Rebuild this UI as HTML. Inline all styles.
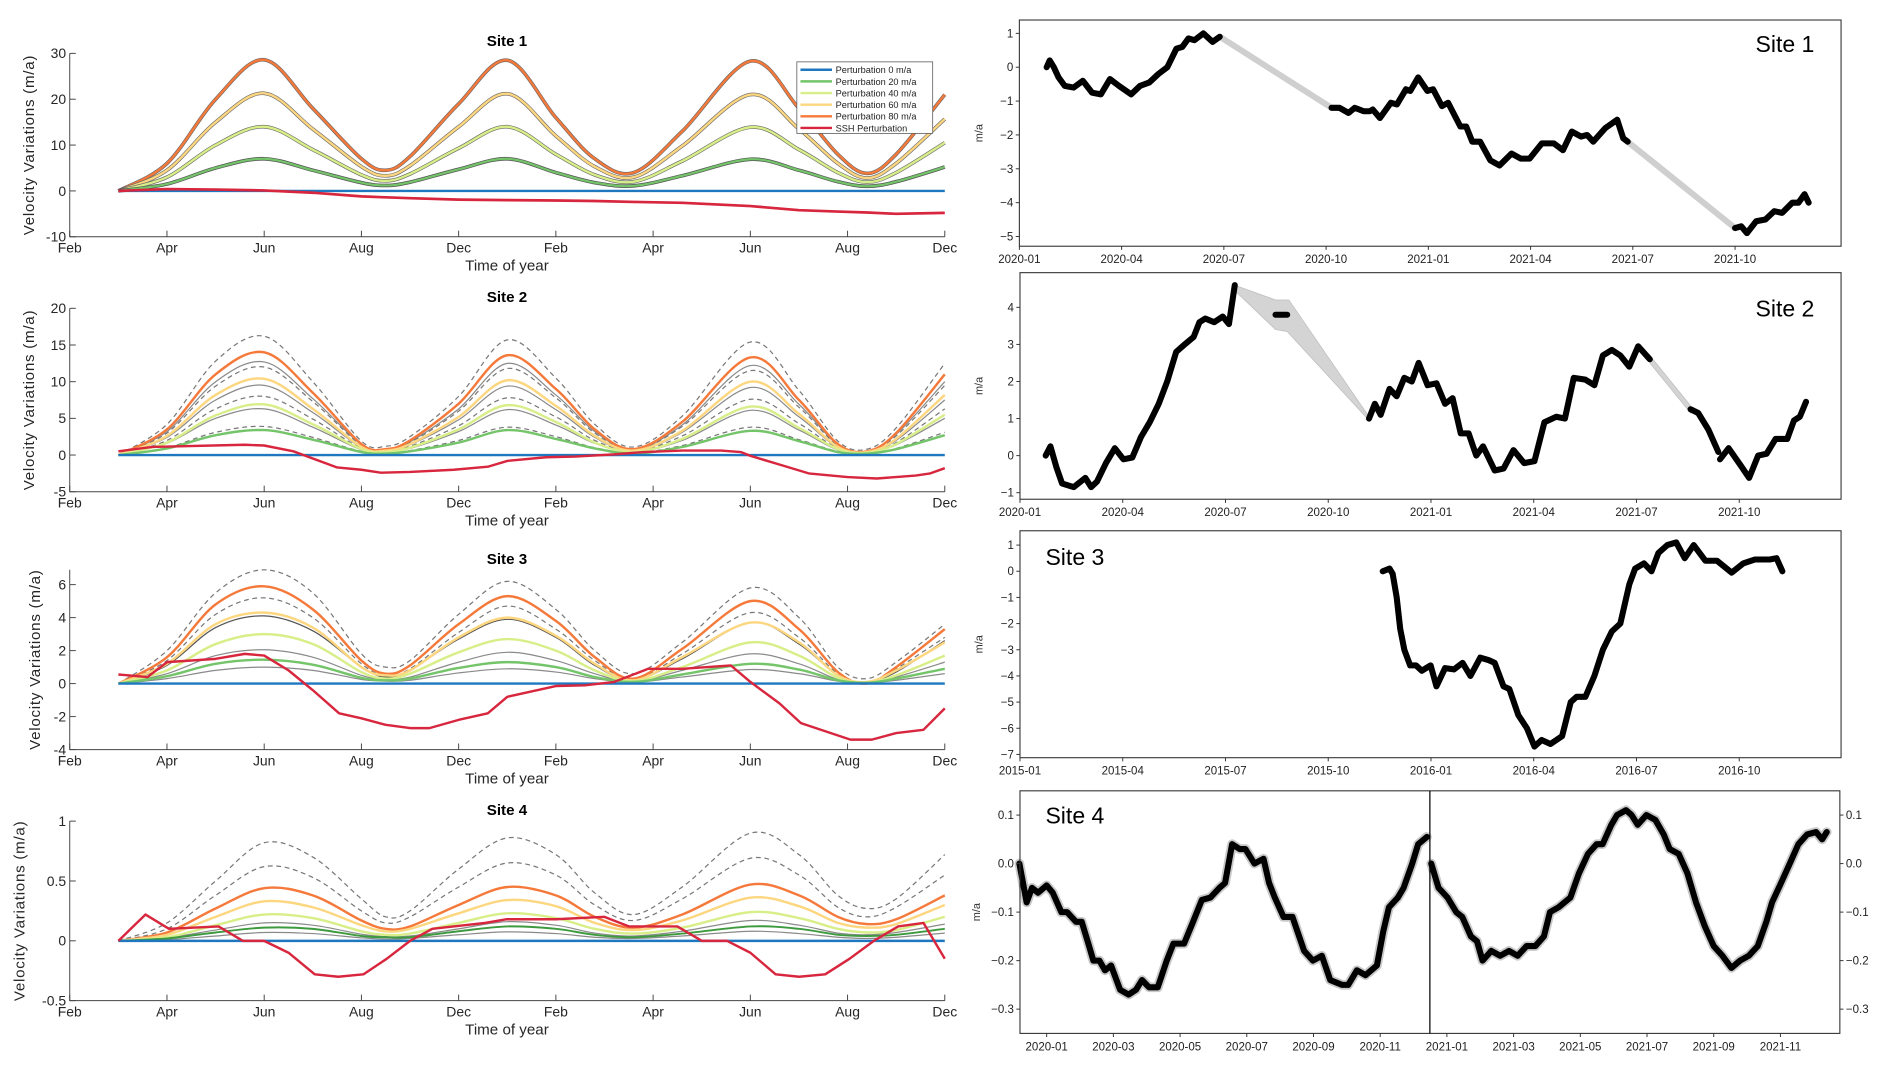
<!DOCTYPE html>
<html><head><meta charset="utf-8"><style>
html,body{margin:0;padding:0;background:#fff;}
svg{display:block;}
text{font-family:"Liberation Sans",sans-serif;}
</style></head><body>
<svg id="fig" width="1892" height="1071" viewBox="0 0 1560 883" preserveAspectRatio="none" xmlns="http://www.w3.org/2000/svg"></svg>
<script>
// ---------- LEFT PANEL DATA ----------
const leftXLabels=["Feb","Apr","Jun","Aug","Dec","Feb","Apr","Jun","Aug","Dec"];
const leftTimes=[0.5,1,1.5,2,2.5,3,3.25,3.5,4,4.5,5,5.4,5.8,6.3,7,7.5,7.9,8.2,8.5,9];
const p1Ticks=[30,20,10,0,-10];
const p1Orange=[0,6,20,28.6,18,7,4.5,7.5,19,28.5,16,7,4,13,28.3,18,8,3.8,8,21];
const p1Yellow=[0,4.5,15,21.3,13.5,5.3,3.3,5.5,14,21.2,12,5.3,3,9.8,21,13.5,6,2.8,6,15.7];
const p1YGreen=[0,3,10,14,9,3.5,2.2,3.7,9.3,14,8,3.5,2,6.5,13.9,9,4,1.9,4,10.5];
const p1Green=[0,1.5,5,7,4.5,1.8,1.2,1.9,4.7,7,4,1.8,1.1,3.3,6.9,4.5,2,1,2,5.2];
const p1Zero=[0,0,0,0,0,0,0,0,0,0,0,0,0,0,0,0,0,0,0,0];
const p1Ssh=[0,0.4,0.3,0.1,-0.4,-1.2,-1.4,-1.6,-1.9,-2,-2.1,-2.2,-2.4,-2.6,-3.3,-4.2,-4.5,-4.7,-5,-4.8];

const p2Ticks=[20,15,10,5,0,-5];
const p2Orange=[0,3.5,11,14,8.5,1.5,0.8,2,7,13.6,9,3.5,0.8,4.5,13.3,7.5,1.5,0.5,3,11];
const p2DashTop=[0,4.2,12.8,16.2,10,1.9,1.2,2.5,8,15.7,10.5,4.2,1.1,5.3,15.4,8.8,1.9,0.8,3.7,12.5];
const p2GrayA=[0,3.2,10,12.7,7.7,1.4,0.7,1.8,6.3,12.5,8.2,3.2,0.7,4.1,12.2,6.9,1.4,0.5,2.8,10];
const p2DashB=[0,3,9.4,12,7.3,1.3,0.7,1.7,6,11.8,7.8,3,0.7,3.9,11.5,6.5,1.3,0.5,2.6,9.5];
const p2Yellow=[0,2.6,8.2,10.4,6.3,1.1,0.6,1.5,5.2,10.2,6.7,2.6,0.6,3.3,10,5.6,1.1,0.4,2.2,8.2];
const p2GrayB=[0,2.4,7.5,9.5,5.8,1,0.5,1.4,4.8,9.4,6.2,2.4,0.5,3.1,9.2,5.2,1,0.4,2,7.5];
const p2DashC=[0,2,6.3,8,4.9,0.9,0.5,1.2,4,7.8,5.2,2,0.5,2.6,7.6,4.3,0.9,0.3,1.7,6.3];
const p2YGreen=[0,1.7,5.4,6.9,4.2,0.8,0.4,1,3.5,6.8,4.5,1.7,0.4,2.2,6.6,3.7,0.8,0.3,1.5,5.5];
const p2GrayC=[0,1.6,5,6.3,3.8,0.7,0.4,0.9,3.2,6.2,4.1,1.6,0.4,2,6.1,3.4,0.7,0.3,1.4,5];
const p2DashD=[0,1,3.1,3.9,2.4,0.5,0.3,0.6,2,3.8,2.5,1,0.3,1.3,3.8,2.1,0.5,0.2,0.9,3.1];
const p2Green=[0,0.9,2.7,3.4,2.1,0.4,0.2,0.5,1.7,3.4,2.2,0.9,0.2,1.1,3.3,1.9,0.4,0.2,0.8,2.7];
const p2SshTimes=[0.5,0.85,1.8,2,2.3,2.75,3,3.2,3.5,3.95,4.3,4.5,4.9,5.2,5.6,5.9,6.3,6.7,6.9,7,7.35,7.6,8,8.3,8.7,8.85,9];
const p2Ssh=[0.5,1.1,1.4,1.3,0.5,-1.7,-2,-2.4,-2.3,-2,-1.6,-0.8,-0.3,-0.2,0.1,0.4,0.6,0.6,0.4,-0.1,-1.5,-2.5,-3,-3.2,-2.8,-2.5,-1.8];

const p3Ticks=[6,4,2,0,-2,-4];
const p3DashTop=[0,2,5.5,6.9,5.5,1.8,1.0,1.4,4.2,6.2,4.5,2,0.6,2.5,5.8,4,1,0.3,1.3,3.6];
const p3Orange=[0,1.6,4.8,5.9,4.5,1.4,0.6,1.1,3.6,5.3,3.8,1.6,0.3,2.1,5,3.3,0.7,0,1,3.3];
const p3Dash2=[0,1.4,4.2,5.2,4,1.2,0.5,0.9,3.1,4.7,3.3,1.4,0.25,1.8,4.3,2.8,0.6,0.1,0.9,2.8];
const p3Yellow=[0,1.2,3.6,4.3,3.4,1.0,0.5,0.8,2.8,4.0,2.9,1.2,0.2,1.6,3.7,2.5,0.5,0.1,0.8,2.5];
const p3Gray1=[0,1.1,3.4,4.1,3.2,1.0,0.4,0.8,2.7,3.9,2.8,1.1,0.2,1.5,3.7,2.4,0.5,0.1,0.7,2.6];
const p3YGreen=[0,0.8,2.4,3.0,2.4,0.7,0.3,0.6,1.9,2.7,2.0,0.8,0.15,1.0,2.5,1.7,0.35,0.05,0.5,1.7];
const p3Gray2=[0,0.6,1.7,2.05,1.6,0.5,0.25,0.4,1.3,1.9,1.4,0.6,0.1,0.8,1.8,1.2,0.25,0.05,0.4,1.3];
const p3Green=[0,0.45,1.2,1.45,1.15,0.35,0.2,0.3,0.95,1.3,1,0.4,0.1,0.55,1.2,0.85,0.2,0.05,0.3,0.9];
const p3Gray3=[0,0.3,0.8,1.0,0.8,0.25,0.15,0.2,0.65,0.9,0.7,0.3,0.08,0.4,0.85,0.6,0.15,0.05,0.2,0.6];
const p3SshTimes=[0.5,0.8,1.0,1.5,1.8,2.0,2.25,2.5,2.77,3.0,3.25,3.5,3.7,4.0,4.3,4.5,5.0,5.3,5.6,5.95,6.3,6.8,7.0,7.3,7.52,8.03,8.25,8.5,8.78,9];
const p3Ssh=[0.55,0.4,1.3,1.5,1.8,1.7,0.8,-0.4,-1.8,-2.1,-2.5,-2.7,-2.7,-2.2,-1.8,-0.8,-0.15,-0.1,0.1,0.9,0.9,1.1,0.1,-1.2,-2.4,-3.4,-3.4,-3.0,-2.8,-1.5];

const p4Ticks=[1,0.5,0,-0.5];
const p4DashTop=[0,0.15,0.5,0.82,0.7,0.35,0.2,0.25,0.6,0.86,0.72,0.4,0.22,0.45,0.9,0.72,0.38,0.27,0.35,0.72];
const p4Dash2=[0,0.1,0.38,0.62,0.53,0.25,0.15,0.2,0.45,0.65,0.55,0.3,0.17,0.35,0.69,0.55,0.28,0.2,0.28,0.55];
const p4Orange=[0,0.07,0.27,0.44,0.38,0.17,0.1,0.12,0.3,0.45,0.38,0.2,0.11,0.22,0.47,0.38,0.2,0.14,0.18,0.38];
const p4Yellow=[0,0.05,0.2,0.33,0.28,0.13,0.08,0.1,0.23,0.34,0.29,0.15,0.09,0.17,0.36,0.29,0.15,0.11,0.14,0.3];
const p4YGreen=[0,0.03,0.13,0.22,0.19,0.08,0.05,0.06,0.15,0.23,0.19,0.1,0.06,0.11,0.24,0.19,0.1,0.07,0.09,0.2];
const p4Gray=[0,0.025,0.09,0.15,0.13,0.055,0.035,0.04,0.1,0.16,0.13,0.065,0.04,0.08,0.17,0.13,0.065,0.05,0.07,0.14];
const p4Green=[0,0.02,0.07,0.11,0.1,0.04,0.03,0.03,0.08,0.12,0.1,0.05,0.03,0.06,0.12,0.1,0.05,0.04,0.05,0.1];
const p4Gray2=[0,0.01,0.04,0.07,0.06,0.025,0.015,0.02,0.05,0.075,0.06,0.03,0.02,0.04,0.08,0.06,0.03,0.02,0.03,0.065];
const p4SshTimes=[0.5,0.78,1.02,1.53,1.78,2.0,2.25,2.52,2.76,3.02,3.26,3.5,3.73,4.27,4.49,5.0,5.5,5.75,6.25,6.5,6.76,7.0,7.26,7.5,7.77,8.02,8.27,8.52,8.78,9];
const p4Ssh=[0,0.22,0.1,0.12,0,0,-0.1,-0.28,-0.3,-0.28,-0.15,0,0.1,0.15,0.18,0.18,0.2,0.12,0.12,0,0,-0.1,-0.28,-0.3,-0.28,-0.15,0,0.12,0.15,-0.15];

const legendLabels=["Perturbation 0 m/a","Perturbation 20 m/a","Perturbation 40 m/a","Perturbation 60 m/a","Perturbation 80 m/a","SSH Perturbation"];

// ---------- RIGHT PANEL DATA (month index, value) ----------
const quarterLabels2020=["2020-01","2020-04","2020-07","2020-10","2021-01","2021-04","2021-07","2021-10"];
const quarterLabels2015=["2015-01","2015-04","2015-07","2015-10","2016-01","2016-04","2016-07","2016-10"];
const bimonthLabels=["2020-01","2020-03","2020-05","2020-07","2020-09","2020-11","2021-01","2021-03","2021-05","2021-07","2021-09","2021-11"];
const r1Ticks=[1,0,-1,-2,-3,-4,-5];
const r2Ticks=[4,3,2,1,0,-1];
const r3Ticks=[1,0,-1,-2,-3,-4,-5,-6,-7];
const r4Ticks=[0.1,0,-0.1,-0.2,-0.3];
const r1Seg1=[[0.8,0],[0.89,0.2],[1.01,0],[1.15,-0.3],[1.33,-0.55],[1.59,-0.6],[1.86,-0.4],[2.13,-0.75],[2.39,-0.8],[2.66,-0.35],[2.92,-0.55],[3.28,-0.8],[3.54,-0.55],[3.81,-0.45],[4.08,-0.2],[4.34,0],[4.61,0.55],[4.78,0.6],[4.96,0.85],[5.14,0.8],[5.4,1.0],[5.67,0.75],[5.88,0.9]];
const r1Seg2=[[9.16,-1.2],[9.39,-1.2],[9.66,-1.35],[9.84,-1.2],[10.1,-1.3],[10.28,-1.3],[10.37,-1.25],[10.58,-1.5],[10.9,-1.05],[11.08,-1.1],[11.34,-0.65],[11.47,-0.7],[11.7,-0.3],[11.97,-0.7],[12.14,-0.65],[12.4,-1.15],[12.58,-1.05],[12.94,-1.75],[13.11,-1.75],[13.29,-2.2],[13.52,-2.2],[13.82,-2.75],[14.09,-2.9],[14.44,-2.55],[14.71,-2.7],[14.97,-2.7],[15.33,-2.25],[15.68,-2.25],[15.95,-2.45],[16.21,-1.9],[16.48,-2.05],[16.66,-2.0],[16.84,-2.2],[17.19,-1.8],[17.54,-1.55],[17.72,-2.1],[17.85,-2.2]];
const r1Seg3=[[21.0,-4.75],[21.18,-4.7],[21.35,-4.9],[21.62,-4.55],[21.89,-4.5],[22.15,-4.25],[22.38,-4.3],[22.68,-4.0],[22.86,-4.0],[23.04,-3.75],[23.16,-4.0]];
const r2Seg1=[[0.75,0],[0.89,0.25],[1.06,-0.3],[1.23,-0.75],[1.57,-0.85],[1.91,-0.6],[2.08,-0.85],[2.25,-0.7],[2.51,-0.2],[2.77,0.2],[3.02,-0.1],[3.28,-0.05],[3.53,0.5],[3.79,0.9],[4.05,1.4],[4.3,2.0],[4.56,2.8],[4.81,3.0],[5.07,3.2],[5.24,3.6],[5.41,3.7],[5.67,3.6],[5.92,3.75],[6.1,3.55],[6.27,4.6]];
const r2Seg2=[[7.46,3.8],[7.8,3.8]];
const r2Seg3=[[10.19,1.0],[10.36,1.4],[10.53,1.1],[10.79,1.8],[11.0,1.6],[11.22,2.1],[11.44,2.0],[11.64,2.5],[11.9,1.9],[12.16,1.95],[12.41,1.4],[12.63,1.55],[12.87,0.6],[13.1,0.6],[13.32,0.0],[13.52,0.25],[13.86,-0.4],[14.12,-0.35],[14.41,0.15],[14.72,-0.2],[15.02,-0.15],[15.31,0.9],[15.66,1.05],[15.91,1.0],[16.17,2.1],[16.51,2.05],[16.77,1.9],[17.02,2.7],[17.28,2.85],[17.53,2.7],[17.79,2.4],[18.05,2.95],[18.39,2.6]];
const r2Seg4=[[19.58,1.25],[19.8,1.15],[20.1,0.7],[20.39,0.1]];
const r2Seg5=[[20.44,-0.1],[20.69,0.2],[21.03,-0.25],[21.29,-0.6],[21.55,0.0],[21.8,0.05],[22.06,0.45],[22.4,0.45],[22.6,0.95],[22.77,1.05],[22.95,1.45]];
const r2Band1=[[6.27,4.6],[7.46,4.2],[7.85,4.2],[10.19,1.05],[10.19,0.95],[7.8,3.35],[7.46,3.4],[6.27,4.45]];
const r2Band2=[[18.39,2.7],[19.58,1.35],[19.58,1.15],[18.39,2.5]];
const r3Seg1=[[10.59,0.0],[10.79,0.1],[10.88,-0.1],[11.0,-1.0],[11.1,-2.2],[11.22,-3.0],[11.39,-3.6],[11.56,-3.6],[11.73,-3.8],[11.99,-3.6],[12.16,-4.4],[12.41,-3.7],[12.67,-3.75],[12.92,-3.5],[13.15,-4.0],[13.44,-3.3],[13.69,-3.4],[13.86,-3.5],[14.12,-4.4],[14.29,-4.5],[14.55,-5.5],[14.8,-6.0],[15.02,-6.7],[15.23,-6.45],[15.49,-6.6],[15.83,-6.3],[16.08,-5.0],[16.25,-4.8],[16.51,-4.8],[16.77,-4.0],[17.02,-3.0],[17.28,-2.3],[17.53,-2.0],[17.79,-0.5],[17.96,0.1],[18.22,0.3],[18.44,0.0],[18.64,0.7],[18.9,1.0],[19.16,1.1],[19.41,0.5],[19.67,1.0],[20.01,0.4],[20.35,0.4],[20.78,-0.05],[21.12,0.3],[21.46,0.45],[21.89,0.45],[22.09,0.5],[22.26,0.0]];
const r4Seg1=[[-0.82,0.0],[-0.6,-0.08],[-0.44,-0.05],[-0.26,-0.06],[0,-0.045],[0.18,-0.06],[0.44,-0.1],[0.61,-0.1],[0.88,-0.12],[1.05,-0.12],[1.23,-0.16],[1.4,-0.2],[1.58,-0.2],[1.75,-0.22],[1.93,-0.21],[2.2,-0.26],[2.46,-0.27],[2.68,-0.26],[2.86,-0.24],[3.07,-0.255],[3.33,-0.255],[3.6,-0.2],[3.8,-0.165],[4.12,-0.165],[4.39,-0.12],[4.65,-0.075],[4.91,-0.07],[5.18,-0.05],[5.35,-0.04],[5.56,0.04],[5.79,0.03],[5.96,0.03],[6.23,0.0],[6.5,0.01],[6.67,-0.04],[6.84,-0.07],[7.1,-0.11],[7.37,-0.11],[7.72,-0.18],[7.98,-0.2],[8.25,-0.19],[8.5,-0.24],[8.86,-0.25],[9.04,-0.25],[9.3,-0.22],[9.56,-0.23],[9.9,-0.21],[10.09,-0.14],[10.26,-0.09],[10.53,-0.07],[10.7,-0.05],[10.96,0.0],[11.14,0.04],[11.4,0.055]];
const r4Seg2=[[11.53,0.0],[11.75,-0.05],[12.02,-0.07],[12.28,-0.1],[12.46,-0.11],[12.72,-0.15],[12.9,-0.16],[13.07,-0.2],[13.33,-0.18],[13.6,-0.19],[13.86,-0.18],[14.12,-0.19],[14.39,-0.17],[14.65,-0.17],[14.91,-0.15],[15.09,-0.1],[15.35,-0.09],[15.7,-0.07],[15.96,-0.02],[16.23,0.02],[16.49,0.04],[16.67,0.04],[16.93,0.08],[17.1,0.1],[17.37,0.11],[17.54,0.1],[17.72,0.08],[17.98,0.1],[18.25,0.09],[18.5,0.06],[18.68,0.03],[18.95,0.02],[19.21,-0.02],[19.47,-0.08],[19.74,-0.13],[20.0,-0.17],[20.26,-0.19],[20.53,-0.215],[20.79,-0.2],[21.05,-0.19],[21.32,-0.17],[21.58,-0.12],[21.75,-0.08],[22.02,-0.04],[22.28,0.0],[22.54,0.04],[22.8,0.06],[23.07,0.065],[23.25,0.05],[23.39,0.065]];

// ---------- helpers ----------
const NS="http://www.w3.org/2000/svg";
const svg=document.getElementById('fig');
function mk(tag,attrs,parent){const e=document.createElementNS(NS,tag);for(const k in attrs)e.setAttribute(k,attrs[k]);(parent||svg).appendChild(e);return e;}
function txt(s,attrs,parent){const e=mk('text',attrs,parent);e.textContent=s;return e;}
function fmtNum(v){return (v<0?"\u2212":"")+Math.abs(v);}
function smoothPath(P){
  let d="M"+P[0][0].toFixed(1)+","+P[0][1].toFixed(1);
  for(let i=0;i<P.length-1;i++){
    const p0=P[Math.max(0,i-1)],p1=P[i],p2=P[i+1],p3=P[Math.min(P.length-1,i+2)];
    const c1x=p1[0]+(p2[0]-p0[0])/6,c1y=p1[1]+(p2[1]-p0[1])/6;
    const c2x=p2[0]-(p3[0]-p1[0])/6,c2y=p2[1]-(p3[1]-p1[1])/6;
    d+="C"+c1x.toFixed(1)+","+c1y.toFixed(1)+" "+c2x.toFixed(1)+","+c2y.toFixed(1)+" "+p2[0].toFixed(1)+","+p2[1].toFixed(1);
  }
  return d;
}

const C={orange:"#f5793a",yellow:"#fdd680",ygreen:"#d8ee88",green:"#74c469",blue:"#1f77c0",red:"#d7263d",gray:"#8a8a8a",dash:"#777"};

function leftPanel(p){
  const g=mk('g',{});
  
  
  const x0=57.5,x1=779;
  const X=t=>x0+t*(x1-x0)/9;
  const Y=v=>p.yA+(v-p.vA)*(p.yB-p.yA)/(p.vB-p.vA);
  const top=Y(p.vMax), bot=Y(p.vMin);
  p.series.forEach(s=>{
    const times=s.times||leftTimes;
    const P=s.data.map((v,i)=>[X(times[i]),Y(v)]);
    let el;
    if(s.times){
      el=mk('polyline',{points:P.map(q=>q[0].toFixed(1)+","+q[1].toFixed(1)).join(" "),fill:"none",stroke:s.color,"stroke-width":s.w,"stroke-linejoin":"round"},g);
    } else {
      el=mk('path',{d:smoothPath(P),fill:"none",stroke:s.color,"stroke-width":s.w,"stroke-dasharray":s.dash||"none"},g);
    }
    
    
  });
  const ax=mk('path',{d:`M${x0},${top}L${x0},${bot}L${x1},${bot}`,fill:"none",stroke:"#444","stroke-width":0.8},g);
  
  
  p.ticks.forEach(v=>{
    mk('line',{x1:x0,x2:x0+5,y1:Y(v),y2:Y(v),stroke:"#444","stroke-width":0.8},g);
    const t=txt(String(v),{x:x0-3,y:Y(v)+4,"font-size":11.5,"text-anchor":"end",fill:"#262626"},g);
    
    
  });
  leftXLabels.forEach((l,i)=>{
    mk('line',{x1:X(i),x2:X(i),y1:bot,y2:bot-5,stroke:"#444","stroke-width":0.8},g);
    const t=txt(l,{x:X(i),y:bot+13,"font-size":11.5,"text-anchor":"middle",fill:"#262626"},g);
    
    
  });
  const xt=txt("Time of year",{x:418,y:bot+28,"font-size":12.5,"text-anchor":"middle",fill:"#262626"},g);
  
  
  const cy=(top+bot)/2;
  const yt=txt("Velocity Variations (m/a)",{x:0,y:0,"font-size":12.5,"text-anchor":"middle",fill:"#262626","letter-spacing":"0.6",transform:`translate(${p.ylx},${cy}) rotate(-90)`},g);
  
  
  const tt=txt(p.title,{x:418,y:p.titleY,"font-size":12.5,"font-weight":"bold","text-anchor":"middle",fill:"#000"},g);
  
  
  return g;
}

function S(name,data,color,w,dash,times){return {name,data,color,w,dash,times};}

leftPanel({name:"left-site-1",title:"Site 1",titleY:38,yA:44,vA:30,yB:195.2,vB:-10,vMax:30,vMin:-10,ticks:p1Ticks,ylx:28,
 series:[S("series-80-shadow",p1Orange,"#666",3),S("series-80",p1Orange,C.orange,2),
 S("series-60-shadow",p1Yellow,"#666",3),S("series-60",p1Yellow,C.yellow,2),
 S("series-40-shadow",p1YGreen,"#666",3),S("series-40",p1YGreen,C.ygreen,2),
 S("series-20-shadow",p1Green,"#555",3),S("series-20",p1Green,C.green,1.8),
 S("series-0",p1Zero,C.blue,2),S("series-ssh",p1Ssh,C.red,2.2,null,leftTimes)]});

leftPanel({name:"left-site-2",title:"Site 2",titleY:249,yA:254.2,vA:20,yB:405.4,vB:-5,vMax:20,vMin:-5,ticks:p2Ticks,ylx:28,
 series:[S("dash-top",p2DashTop,C.dash,1,"4,3"),S("gray-a",p2GrayA,C.gray,1),S("dash-b",p2DashB,C.dash,1,"4,3"),
 S("gray-b",p2GrayB,C.gray,1),S("dash-c",p2DashC,C.dash,1,"4,3"),S("gray-c",p2GrayC,C.gray,1),S("dash-d",p2DashD,C.dash,1,"4,3"),
 S("series-80",p2Orange,C.orange,2),S("series-60",p2Yellow,C.yellow,2),S("series-40",p2YGreen,C.ygreen,2),S("series-20",p2Green,C.green,2),
 S("series-0",p1Zero,C.blue,2),S("series-ssh",p2Ssh,C.red,2,null,p2SshTimes)]});

leftPanel({name:"left-site-3",title:"Site 3",titleY:465,yA:482,vA:6,yB:618,vB:-4,vMax:6.9,vMin:-4,ticks:p3Ticks,ylx:33,
 series:[S("dash-top",p3DashTop,C.dash,1,"4,3"),S("dash-2",p3Dash2,C.dash,1,"4,3"),S("gray-1",p3Gray1,"#555",1),
 S("gray-2",p3Gray2,C.gray,1),S("gray-3",p3Gray3,C.gray,1),
 S("series-80",p3Orange,C.orange,2),S("series-60",p3Yellow,C.yellow,2),S("series-40",p3YGreen,C.ygreen,2),S("series-20",p3Green,C.green,2),
 S("series-0",p1Zero,C.blue,2),S("series-ssh",p3Ssh,C.red,2,null,p3SshTimes)]});

leftPanel({name:"left-site-4",title:"Site 4",titleY:672,yA:677,vA:1,yB:825,vB:-0.5,vMax:1,vMin:-0.5,ticks:p4Ticks,ylx:20,
 series:[S("dash-top",p4DashTop,C.dash,1,"4,3"),S("dash-2",p4Dash2,C.dash,1,"4,3"),S("gray-1",p4Gray,C.gray,1),S("gray-2",p4Gray2,C.gray,1),
 S("series-80",p4Orange,C.orange,2),S("series-60",p4Yellow,C.yellow,2),S("series-40",p4YGreen,C.ygreen,2),S("series-20",p4Green,"#3e9a3e",1.6),
 S("series-0",p1Zero,C.blue,2),S("series-ssh",p4Ssh,C.red,2,null,p4SshTimes)]});

(function(){
  const g=mk('g',{});
  
  
  mk('rect',{x:657,y:51,width:112,height:59,fill:"#fff",stroke:"#666","stroke-width":0.7},g);
  const cols=[C.blue,C.green,C.ygreen,C.yellow,C.orange,C.red];
  legendLabels.forEach((l,i)=>{
    const y=57.5+i*9.6;
    const ln=mk('line',{x1:660,x2:686,y1:y,y2:y,stroke:cols[i],"stroke-width":2},g);
    
    
    const t=txt(l,{x:689,y:y+2.8,"font-size":7.6,fill:"#222"},g);
    
    
  });
})();

// ---------- RIGHT PANELS ----------
function rightPanel(p){
  const g=mk('g',{});
  
  
  const X=m=>p.xA+m*p.xStep;
  const Y=v=>p.yA+(v-p.vA)*(p.yB-p.yA)/(p.vB-p.vA);
  (p.bands||[]).forEach(b=>{
    const pg=mk('polygon',{points:b.map(q=>X(q[0]).toFixed(1)+","+Y(q[1]).toFixed(1)).join(" "),fill:"#d4d4d4",stroke:"#bdbdbd","stroke-width":0.6},g);
    
    
  });
  (p.gaps||[]).forEach(gp=>{
    const l=mk('line',{x1:X(gp[0][0]),y1:Y(gp[0][1]),x2:X(gp[1][0]),y2:Y(gp[1][1]),stroke:"#cfcfcf","stroke-width":5},g);
    
    
  });
  p.segs.forEach(sg=>{
    const pts=sg.map(q=>X(q[0]).toFixed(1)+","+Y(q[1]).toFixed(1)).join(" ");
    if(p.halo){mk('polyline',{points:pts,fill:"none",stroke:"#c8c8c8","stroke-width":8,"stroke-linejoin":"round","stroke-linecap":"round"},g);}
    const pl=mk('polyline',{points:pts,fill:"none",stroke:"#000","stroke-width":5,"stroke-linejoin":"round","stroke-linecap":"round"},g);
    
    
  });
  const fr=mk('rect',{x:p.bx0,y:p.by0,width:p.bx1-p.bx0,height:p.by1-p.by0,fill:"none",stroke:"#333","stroke-width":0.9},g);
  
  
  p.ticks.forEach(v=>{
    mk('line',{x1:p.bx0-3,x2:p.bx0,y1:Y(v),y2:Y(v),stroke:"#333","stroke-width":0.8},g);
    const t=txt(p.fmt?p.fmt(v):fmtNum(v),{x:p.bx0-5,y:Y(v)+3.3,"font-size":9.5,"text-anchor":"end",fill:"#222"},g);
    
    
    if(p.rightAxis){
      mk('line',{x1:p.bx1,x2:p.bx1+3,y1:Y(v),y2:Y(v),stroke:"#333","stroke-width":0.8},g);
      const t2=txt(p.fmt(v),{x:p.bx1+5,y:Y(v)+3.3,"font-size":9.5,fill:"#222"},g);
      
      
    }
  });
  p.xLabels.forEach((l,i)=>{
    const x=X(i*p.xEvery);
    mk('line',{x1:x,x2:x,y1:p.by1,y2:p.by1+3,stroke:"#333","stroke-width":0.8},g);
    const t=txt(l,{x:x,y:p.by1+14,"font-size":9.5,"text-anchor":"middle",fill:"#222"},g);
    
    
  });
  const yl=txt("m/a",{x:0,y:0,"font-size":9,"text-anchor":"middle",fill:"#333",transform:`translate(${p.ylx},${(p.by0+p.by1)/2}) rotate(-90)`},g);
  
  
  const st=txt(p.title,{x:p.tx,y:p.ty,"font-size":19,"text-anchor":p.anchor,fill:"#000"},g);
  
  
  if(p.vline){
    const vl=mk('line',{x1:X(p.vline),x2:X(p.vline),y1:p.by0,y2:p.by1,stroke:"#000","stroke-width":1},g);
    
    
  }
}

rightPanel({name:"right-site-1",title:"Site 1",tx:1496,ty:43,anchor:"end",xA:840.5,xStep:28.1,yA:27.5,vA:1,yB:195,vB:-5,
 bx0:840.5,bx1:1518,by0:16.5,by1:203,ticks:r1Ticks,xLabels:quarterLabels2020,xEvery:3,ylx:810,
 segs:[r1Seg1,r1Seg2,r1Seg3],gaps:[[r1Seg1[r1Seg1.length-1],r1Seg2[0]],[r1Seg2[r1Seg2.length-1],r1Seg3[0]]]});

rightPanel({name:"right-site-2",title:"Site 2",tx:1496,ty:261,anchor:"end",xA:841,xStep:28.24,yA:253.4,vA:4,yB:406.2,vB:-1,
 bx0:841,bx1:1518,by0:224.8,by1:411.6,ticks:r2Ticks,xLabels:quarterLabels2020,xEvery:3,ylx:810,
 segs:[r2Seg1,r2Seg2,r2Seg3,r2Seg4,r2Seg5],bands:[r2Band1,r2Band2]});

rightPanel({name:"right-site-3",title:"Site 3",tx:862,ty:466,anchor:"start",xA:841,xStep:28.24,yA:449.4,vA:1,yB:622,vB:-7,
 bx0:841,bx1:1518,by0:437.6,by1:624.7,ticks:r3Ticks,xLabels:quarterLabels2015,xEvery:3,ylx:810,
 segs:[r3Seg1]});

rightPanel({name:"right-site-4",title:"Site 4",tx:862,ty:679,anchor:"start",xA:863,xStep:27.5,yA:672,vA:0.1,yB:832,vB:-0.3,
 bx0:841,bx1:1517,by0:652,by1:852,ticks:r4Ticks,xLabels:bimonthLabels,xEvery:2,ylx:808,halo:true,rightAxis:true,
 fmt:v=>(v<0?"\u2212":"")+Math.abs(v).toFixed(1),vline:11.49,
 segs:[r4Seg1,r4Seg2]});
</script>
</body></html>
